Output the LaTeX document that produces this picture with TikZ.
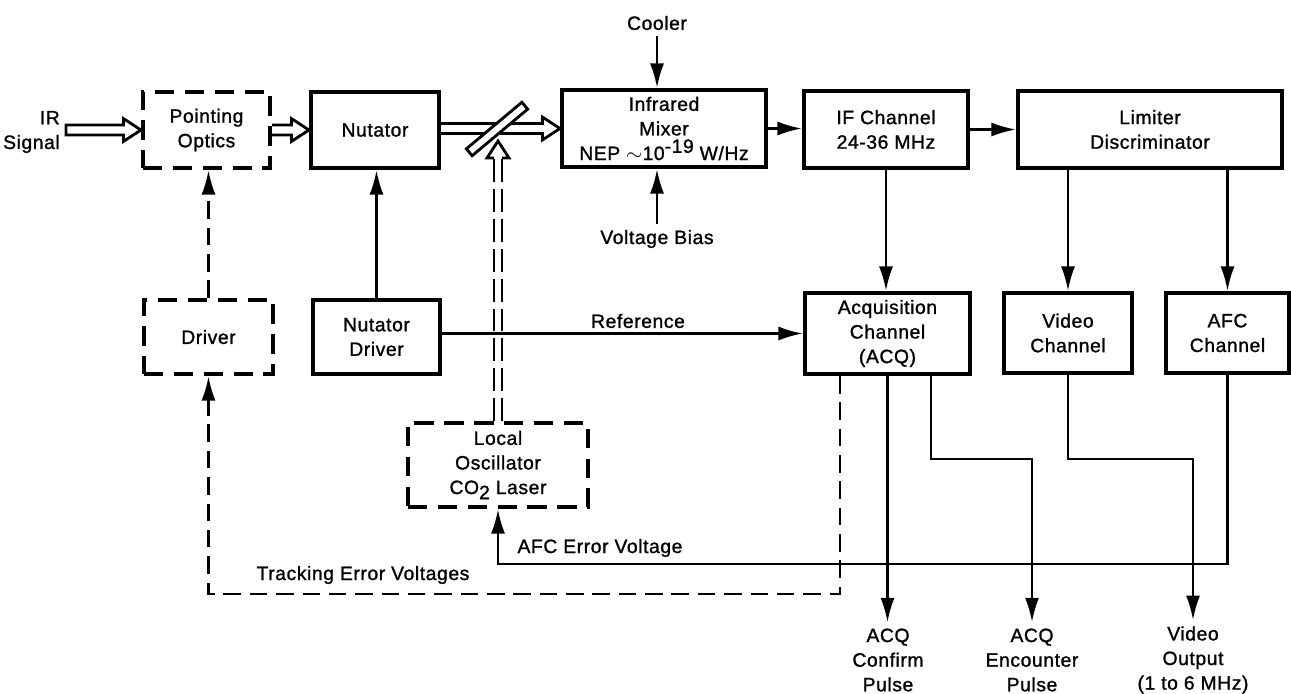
\documentclass[tikz,border=0pt]{standalone}
\usepackage{fontspec}
\setmainfont{Liberation Sans}[LetterSpace=3,FakeBold=1.2]
\usetikzlibrary{arrows.meta,calc}
\newcommand\hollowarrow[3]{\draw[hollowline] let \p1=#2, \p2=#3 in
  (\x1,\y2+2.8pt) -- (\x2-10pt,\y2+2.8pt) -- (\x2-10pt,\y2+6.5pt) -- (\x2,\y2)
  -- (\x2-10pt,\y2-6.5pt) -- (\x2-10pt,\y2-2.8pt) -- (\x1,\y2-2.8pt) #1;}
\begin{document}
\begin{tikzpicture}[x=0.02cm,y=-0.02cm,
  every node/.style={font=\fontsize{11}{14}\selectfont, align=center},
  blk/.style={draw, line width=2.3pt, inner sep=0pt},
  dblk/.style={blk, dash pattern=on 11pt off 6pt},
  conn/.style={line width=1.5pt},
  arr/.style={conn, -{Latex[length=14pt,width=8pt]}},
  dconn/.style={conn, dash pattern=on 10pt off 5pt},
  dconnb/.style={conn, dash pattern=on 13pt off 4pt},
  hollowline/.style={line width=1.6pt, line join=miter},
]
\useasboundingbox (0,0) rectangle (1291,693);

% blocks
\node[dblk, minimum width=2.54cm, minimum height=1.52cm] (po) at (206.5,130) {Pointing\\Optics};
\node[blk, minimum width=2.56cm, minimum height=1.52cm] (nut) at (375,130) {Nutator};
\node[blk, minimum width=4.08cm, minimum height=1.54cm] (mix) at (664,128.5) {Infrared\\Mixer\\NEP {\large$\sim$}10\raisebox{0.7ex}{-19} W/Hz};
\node[blk, minimum width=3.28cm, minimum height=1.54cm] (ifc) at (886,129.5) {IF Channel\\24-36 MHz};
\node[blk, minimum width=5.28cm, minimum height=1.54cm] (lim) at (1150,129.5) {Limiter\\Discriminator};
\node[dblk, minimum width=2.58cm, minimum height=1.48cm] (drv) at (208.5,337) {Driver};
\node[blk, minimum width=2.54cm, minimum height=1.48cm] (nd) at (376.5,337) {Nutator\\Driver};
\node[blk, minimum width=3.30cm, minimum height=1.62cm] (acq) at (887.5,333.5) {Acquisition\\Channel\\(ACQ)};
\node[blk, minimum width=2.56cm, minimum height=1.60cm] (vid) at (1068,333) {Video\\Channel};
\node[blk, minimum width=2.46cm, minimum height=1.60cm] (afc) at (1227.5,333) {AFC\\Channel};
\node[dblk, minimum width=3.60cm, minimum height=1.68cm] (lo) at (498,465) {Local\\Oscillator\\CO\raisebox{-0.5ex}{2} Laser};

% free texts
\node[anchor=east, align=right] (ir) at (66,132) {IR\\Signal};
\node (cool) at (657,23) {Cooler};
\node (vb) at (657,239) {Voltage Bias};
\node (o1) at (888,660) {ACQ\\Confirm\\Pulse};
\node (o2) at (1032,660) {ACQ\\Encounter\\Pulse};
\node (o3) at (1193,660) {Video\\Output\\(1 to 6 MHz)};
\node (lref) at (638,321) {Reference};
\node (lafc) at (600,548) {AFC Error Voltage};
\node (ltrk) at (363,575) {Tracking Error Voltages};

% optical (hollow) arrows
\hollowarrow{-- cycle}{(ir.east)}{(po.west)}
\hollowarrow{}{(po.east)}{(nut.west)}
\hollowarrow{}{(nut.east)}{(mix.west)}

% beam splitter
\node[draw, fill=white, line width=1.6pt, rotate=40, minimum width=1.45cm,
      minimum height=0.18cm, inner sep=0pt] (bs) at (497,129) {};

% local oscillator beam
\coordinate (tip) at (498,141);
\draw[dconnb] ($(lo.north)+(-4,0)$) -- ($(tip)+(-4,17)$);
\draw[dconnb] ($(lo.north)+(4,0)$) -- ($(tip)+(4,17)$);
\draw[hollowline, fill=white] ($(tip)+(-4,17)$) -- ($(tip)+(-11,17)$) -- (tip)
  -- ($(tip)+(11,17)$) -- ($(tip)+(4,17)$);

% signal connectors
\draw[arr] (mix.east) -- (mix.east -| ifc.west);
\draw[arr] (ifc.east) -- (ifc.east -| lim.west);
\draw[arr] (ifc.south) -- (ifc.south |- acq.north);
\draw[arr] (vid.north |- lim.south) -- (vid.north);
\draw[arr] (afc.north |- lim.south) -- (afc.north);
\draw[arr] (nd.north) -- (nd.north |- nut.south);
\draw[arr] (nd.east |- acq.west) -- (acq.west);
\draw[arr] (cool.south) -- (cool.south |- mix.north);
\draw[arr] (vb.north) -- (vb.north |- mix.south);

% tracking loop (dashed)
\draw[arr, dconn] (drv.north) -- (drv.north |- po.south);
\draw[arr, dconn] ($(acq.south west)+(37,0)$) -- ++(0,218) -| (drv.south);

% outputs
\draw[arr] (acq.south) -- (acq.south |- o1.north);
\draw[arr] ($(acq.south west)+(128,0)$) -- ++(0,83) -| (o2.north);
\draw[arr] (vid.south) -- ++(0,84) -| (o3.north);
\draw[arr] (afc.south) -- ++(0,189) -| (lo.south);
\end{tikzpicture}
\end{document}
